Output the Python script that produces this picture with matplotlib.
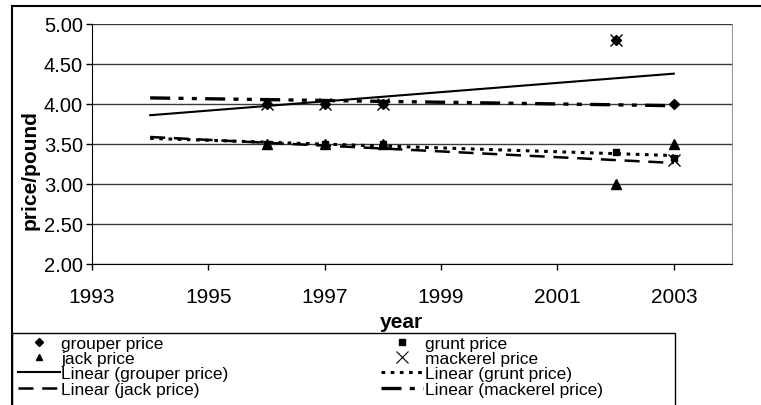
import numpy as np
import matplotlib
matplotlib.use("Agg")
import matplotlib.pyplot as plt
from matplotlib.lines import Line2D
from matplotlib.patches import Rectangle

plt.rcParams['font.family'] = ['Liberation Sans', 'DejaVu Sans']

# data
years = [1996, 1997, 1998, 2002, 2003]
grouper = [4.00, 4.00, 4.00, 4.80, 4.00]
grunt = [3.50, 3.50, 3.50, 3.40, 3.33]
jack = [3.50, 3.50, 3.50, 3.00, 3.50]
mackerel = [4.00, 4.00, 4.00, 4.80, 3.30]

trend_start = 1994  # trendlines forecast backward 2 years
trend_end = 2003

xticks = [1993, 1995, 1997, 1999, 2001, 2003]
yticks = [2.00, 2.50, 3.00, 3.50, 4.00, 4.50, 5.00]

W, H = 761, 406
fig = plt.figure(figsize=(W / 100, H / 100), dpi=100)
L, R, T, B = 92, 732, 25, 265
ax = fig.add_axes([L / W, 1 - B / H, (R - L) / W, (B - T) / H])


def trend(y):
    k, b = np.polyfit(years, y, 1)
    xs = np.array([trend_start, trend_end])
    return xs, k * xs + b


ls_grunt = (0, (1.2, 1.8))
ls_jack = (0, (6, 3.5))
ls_mack = (0, (6, 2.5, 1.5, 2.5, 1.5, 2.5))

# trendlines
x, y = trend(grouper)
ax.plot(x, y, color='black', lw=1.5, ls='-', zorder=3)
x, y = trend(grunt)
ax.plot(x, y, color='black', lw=2.2, ls=ls_grunt, zorder=3)
x, y = trend(jack)
ax.plot(x, y, color='black', lw=1.8, ls=ls_jack, zorder=3)
x, y = trend(mackerel)
ax.plot(x, y, color='black', lw=2.4, ls=ls_mack, zorder=3)

# points
ax.plot(years, grouper, 'D', color='black', ms=5, ls='none', zorder=4)
ax.plot(years, grunt, 's', color='black', ms=5, ls='none', zorder=4)
ax.plot(years, jack, '^', color='black', ms=6.5, ls='none', zorder=4)
ax.plot(years, mackerel, 'x', color='black', ms=9, mew=1.0, ls='none', zorder=5)

ax.set_xlim(1993, 2004)
ax.set_ylim(2.0, 5.0)
ax.set_xticks(xticks)
ax.set_xticklabels([str(t) for t in xticks])
ax.set_yticks(yticks)
ax.set_yticklabels(['%.2f' % t for t in yticks])
ax.tick_params(axis='both', labelsize=15, length=4.5, width=1, direction='out')
ax.tick_params(axis='x', pad=12)
ax.tick_params(axis='y', pad=2, labelsize=14.5)
ax.grid(axis='y', color='#3a3a3a', lw=1)
ax.set_axisbelow(True)
ax.spines['top'].set_visible(False)
ax.spines['right'].set_color('#9a9a9a')

ax.set_xlabel('year', fontsize=15, fontweight='bold')
ax.xaxis.set_label_coords((401 - L) / (R - L), -(323 - B) / (B - T))
ax.xaxis.label.set_verticalalignment('center')
ax.set_ylabel('price/pound', fontsize=15, fontweight='bold')
ax.yaxis.set_label_coords((30 - L) / (R - L), 1 - (170 - T) / (B - T))
ax.yaxis.label.set_verticalalignment('center')

# chart area border (cut off at right and bottom)
fig.add_artist(Line2D([12 / W, 12 / W], [0, 1 - 7 / H], color='black', lw=1.5))
fig.add_artist(Line2D([12 / W, 1], [1 - 7 / H, 1 - 7 / H], color='black', lw=1.5))

# legend box
fig.add_artist(Rectangle((12 / W, -0.05), (675 - 12) / W, 0.05 + 1 - 334 / H,
                         fill=False, edgecolor='black', lw=1))

handles = [
    Line2D([], [], marker='D', color='black', ms=4, ls='none'),
    Line2D([], [], marker='^', color='black', ms=5, ls='none'),
    Line2D([], [], color='black', lw=1.5, ls='-'),
    Line2D([], [], color='black', lw=1.8, ls=ls_jack),
    Line2D([], [], marker='s', color='black', ms=4, ls='none'),
    Line2D([], [], marker='x', color='black', ms=8, mew=0.8, ls='none'),
    Line2D([], [], color='black', lw=2.2, ls=ls_grunt),
    Line2D([], [], color='black', lw=2.4, ls=ls_mack),
]
labels = ['grouper price', 'jack price', 'Linear (grouper price)', 'Linear (jack price)',
          'grunt price', 'mackerel price', 'Linear (grunt price)', 'Linear (mackerel price)']
fig.legend(handles, labels, loc='upper left', bbox_to_anchor=(18 / W, 1 - 337 / H),
           ncol=2, frameon=False, fontsize=12.5, handlelength=2.4, handletextpad=0.1,
           columnspacing=8.8, labelspacing=0.0, borderpad=0, borderaxespad=0)

fig.savefig('out.png', dpi=100)
